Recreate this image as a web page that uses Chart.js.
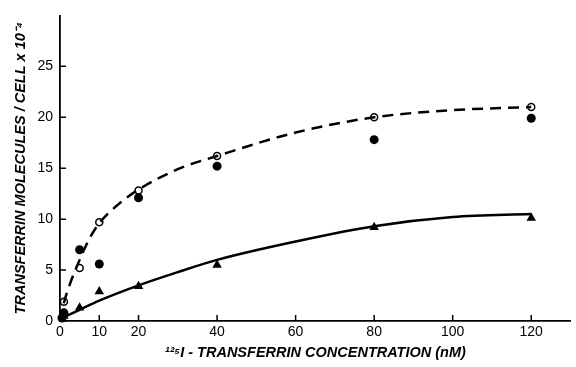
<!DOCTYPE html>
<html>
<head>
<meta charset="utf-8">
<script src="https://cdn.jsdelivr.net/npm/chart.js@4.4.0/dist/chart.umd.min.js"></script>
<style>
  html, body { margin: 0; padding: 0; background: #fff; }
  #wrap { width: 576px; height: 367px; }
</style>
</head>
<body>
<div id="wrap"><canvas id="myChart"></canvas></div>
<script>
// data
var xTicks = [0, 10, 20, 40, 60, 80, 100, 120];
var yTicks = [0, 5, 10, 15, 20, 25];

var openConc = [1, 5, 10, 20, 40, 80, 120];
var openVals = [1.9, 5.2, 9.7, 12.8, 16.2, 20.0, 21.0];

var filledConc = [0.5, 1, 5, 10, 20, 40, 80, 120];
var filledVals = [0.3, 0.8, 7.0, 5.6, 12.1, 15.2, 17.8, 19.9];

var triConc = [1, 5, 10, 20, 40, 80, 120];
var triVals = [0.5, 1.3, 2.9, 3.4, 5.5, 9.2, 10.1];

// fitted curves
var dashConc = [0, 1, 2.5, 5, 7.5, 10, 15, 20, 30, 40, 60, 80, 100, 120];
var dashVals = [0, 1.8, 3.6, 6.0, 8.1, 9.6, 11.5, 12.9, 14.9, 16.2, 18.5, 20.0, 20.7, 21.0];

var solidConc = [0, 5, 10, 20, 30, 40, 60, 80, 100, 120];
var solidVals = [0.2, 1.1, 2.0, 3.5, 4.8, 6.0, 7.8, 9.3, 10.2, 10.5];

function pts(xs, ys) {
  return xs.map(function (x, i) { return {x: x, y: ys[i]}; });
}

var font = "'Liberation Sans', Arial, sans-serif";

// short tick marks pointing into the plot
var innerTicks = {
  id: "innerTicks",
  afterDraw: function (chart) {
    var ctx = chart.ctx, xs = chart.scales.x, ys = chart.scales.y;
    ctx.save();
    ctx.strokeStyle = "#000";
    ctx.lineWidth = 1.5;
    ctx.beginPath();
    xTicks.forEach(function (v) {
      var px = xs.getPixelForValue(v);
      ctx.moveTo(px, ys.bottom);
      ctx.lineTo(px, ys.bottom - 6);
    });
    yTicks.forEach(function (v) {
      var py = ys.getPixelForValue(v);
      ctx.moveTo(xs.left, py);
      ctx.lineTo(xs.left + 6, py);
    });
    ctx.stroke();
    ctx.restore();
  }
};

new Chart("myChart", {
  type: "scatter",
  data: {
    datasets: [
      {
        data: pts(dashConc, dashVals),
        showLine: true,
        borderColor: "#000",
        borderWidth: 2.5,
        borderDash: [11, 7],
        pointRadius: 0,
        cubicInterpolationMode: "monotone",
        clip: false
      },
      {
        data: pts(solidConc, solidVals),
        showLine: true,
        borderColor: "#000",
        borderWidth: 2.5,
        pointRadius: 0,
        cubicInterpolationMode: "monotone",
        clip: false
      },
      {
        data: pts(openConc, openVals),
        pointStyle: "circle",
        pointRadius: 3.5,
        backgroundColor: "#fff",
        borderColor: "#000",
        borderWidth: 1.5,
        clip: false
      },
      {
        data: pts(filledConc, filledVals),
        pointStyle: "circle",
        pointRadius: 4.5,
        backgroundColor: "#000",
        borderColor: "#000",
        borderWidth: 0,
        clip: false
      },
      {
        data: pts(triConc, triVals),
        pointStyle: "triangle",
        pointRadius: 5.5,
        backgroundColor: "#000",
        borderColor: "#000",
        borderWidth: 0,
        clip: false
      }
    ]
  },
  options: {
    responsive: true,
    maintainAspectRatio: false,
    animation: false,
    layout: {padding: {top: 10, right: 4, left: 0, bottom: 0}},
    plugins: {legend: {display: false}, tooltip: {enabled: false}},
    scales: {
      x: {
        type: "linear",
        min: 0,
        max: 130,
        afterBuildTicks: function (s) { s.ticks = xTicks.map(function (v) { return {value: v}; }); },
        afterFit: function (s) { s.height = 46; },
        border: {color: "#000", width: 1.8},
        grid: {display: false, drawTicks: false},
        ticks: {color: "#000", font: {family: font, size: 14}, padding: 3, maxRotation: 0},
        title: {
          display: true,
          text: "\u00B9\u00B2\u2075I - TRANSFERRIN CONCENTRATION (nM)",
          color: "#000",
          font: {family: font, size: 14.5, style: "italic", weight: "bold"},
          padding: {top: 3, bottom: 5}
        }
      },
      y: {
        type: "linear",
        min: 0,
        max: 30,
        afterBuildTicks: function (s) { s.ticks = yTicks.map(function (v) { return {value: v}; }); },
        afterFit: function (s) { s.width = 60; },
        border: {color: "#000", width: 1.8},
        grid: {display: false, drawTicks: false},
        ticks: {color: "#000", font: {family: font, size: 14}, padding: 7},
        title: {
          display: true,
          text: "TRANSFERRIN MOLECULES / CELL x 10\u207B\u2074",
          color: "#000",
          font: {family: font, size: 14.5, style: "italic", weight: "bold"},
          padding: {top: 12, bottom: 0}
        }
      }
    }
  },
  plugins: [innerTicks]
});
</script>
</body>
</html>
